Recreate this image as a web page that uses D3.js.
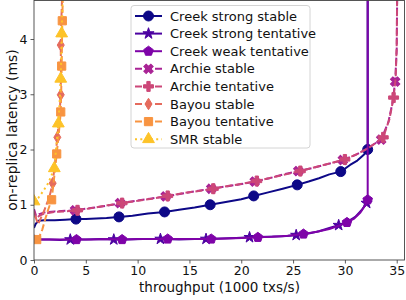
<!DOCTYPE html>
<html lang="en">
<head>
<meta charset="utf-8">
<title>latency vs throughput</title>
<script src="https://d3js.org/d3.v7.min.js"></script>
<style>
	body {margin:0; background:#fff;}
	svg {font-family:"DejaVu Sans", sans-serif;}
</style>
</head>
<body>
<div id="chart"></div>
<script>
// series data (throughput in 1000 txs/s, latency in ms)
const cssX = [0, 0.15, 0.4, 1, 2, 3, 4.05, 5, 6, 7, 8.2, 9.5, 11, 12.6, 14, 15.5, 17.0, 18.5, 20, 21.2, 22.5, 24, 25.4, 26.5, 27.5, 28.5, 29.6, 30.5, 31.2, 31.8, 32.2, 32.2];
const cssY = [0.58, 0.65, 0.71, 0.72, 0.72, 0.73, 0.74, 0.74, 0.75, 0.76, 0.78, 0.80, 0.84, 0.87, 0.91, 0.95, 1.00, 1.05, 1.10, 1.16, 1.22, 1.29, 1.36, 1.42, 1.48, 1.55, 1.60, 1.72, 1.80, 1.90, 2.0, 6];
const cssMarks = [6, 10, 13, 16, 19, 22, 26, 30];

const cstX = [0, 0.2, 0.6, 1.5, 2.5, 3.5, 5, 6.5, 7.7, 9, 10.5, 12.2, 14, 15.5, 16.6, 18, 19.5, 20.8, 22.5, 24, 25.3, 26.5, 27.5, 28.5, 29.4, 30.3, 31.0, 31.6, 32.1, 32.2];
const cstY = [0.45, 0.40, 0.37, 0.37, 0.36, 0.37, 0.37, 0.38, 0.37, 0.37, 0.38, 0.38, 0.37, 0.38, 0.38, 0.39, 0.40, 0.41, 0.42, 0.43, 0.45, 0.48, 0.52, 0.58, 0.63, 0.70, 0.78, 0.90, 1.03, 1.08];
const cstMarks = [5, 8, 11, 14, 17, 20, 24, 28];

const cwtX = [0, 0.2, 0.6, 1.5, 2.8, 4.1, 5.5, 7, 8.5, 10, 11.5, 12.9, 14.3, 15.7, 17.1, 18.6, 20.1, 21.6, 23, 24.5, 26.0, 27.3, 28.5, 29.4, 30.2, 30.9, 31.5, 32.0, 32.2, 32.2];
const cwtY = [0.40, 0.38, 0.37, 0.37, 0.37, 0.37, 0.37, 0.38, 0.37, 0.38, 0.38, 0.38, 0.38, 0.38, 0.38, 0.39, 0.40, 0.41, 0.42, 0.44, 0.47, 0.51, 0.56, 0.62, 0.68, 0.75, 0.86, 1.0, 1.09, 6];
const cwtMarks = [5, 8, 11, 14, 17, 20, 24, 28];

const asX = [0, 0.2, 0.5, 1, 2, 3, 3.96, 5.5, 7, 8.3, 9.8, 11.2, 12.7, 14.2, 15.7, 17.1, 18.5, 19.9, 21.3, 22.7, 24.1, 25.5, 27, 28.4, 29.8, 31, 32, 33.5, 34.2, 34.6, 34.85, 35.0, 35.1];
const asY = [0.92, 0.80, 0.83, 0.86, 0.88, 0.89, 0.90, 0.94, 0.98, 1.03, 1.07, 1.11, 1.15, 1.20, 1.25, 1.29, 1.33, 1.37, 1.42, 1.48, 1.55, 1.61, 1.67, 1.74, 1.81, 1.90, 2.0, 2.18, 2.5, 2.85, 3.23, 3.8, 6];
const asMarks = [6, 9, 12, 15, 18, 21, 24, 27, 30];

const atX = [0, 0.2, 0.5, 1, 2, 3, 4.2, 5.6, 7.1, 8.5, 10, 11.4, 12.9, 14.4, 15.9, 17.3, 18.7, 20.1, 21.5, 22.9, 24.3, 25.7, 27.1, 28.6, 30.0, 31.2, 32.3, 33.7, 34.3, 34.7, 34.9, 35.0, 35.1];
const atY = [0.88, 0.75, 0.80, 0.84, 0.87, 0.88, 0.90, 0.94, 0.99, 1.03, 1.07, 1.11, 1.16, 1.21, 1.25, 1.29, 1.34, 1.38, 1.43, 1.49, 1.55, 1.61, 1.68, 1.75, 1.82, 1.92, 2.03, 2.22, 2.55, 2.94, 3.3, 3.9, 6];
const atMarks = [6, 9, 12, 15, 18, 21, 24, 27, 29];

const bsX = [0.1, 0.4, 1.0, 1.5, 1.8, 2.05, 2.25, 2.45, 2.58, 2.6, 2.58, 2.65, 2.75, 2.8];
const bsY = [0.8, 0.65, 0.9, 1.15, 1.39, 1.8, 2.22, 2.6, 2.99, 3.45, 3.89, 4.4, 5, 6];
const bsMarks = [4, 6, 8, 10];

const btX = [0.26, 0.5, 0.8, 1.1, 1.35, 1.7, 1.95, 2.19, 2.4, 2.58, 2.63, 2.67, 2.7, 2.73, 2.8, 2.9];
const btY = [0.37, 0.42, 0.55, 0.75, 0.9, 1.09, 1.5, 1.92, 2.3, 2.68, 3.1, 3.51, 3.9, 4.33, 5, 6];
const btMarks = [0, 5, 7, 9, 11, 13];

const smrX = [0, 0.4, 0.9, 1.4, 1.96, 2.15, 2.35, 2.48, 2.58, 2.63, 2.67, 2.75, 2.85];
const smrY = [1.06, 1.12, 1.25, 1.4, 1.66, 2.05, 2.47, 2.88, 3.28, 3.7, 4.1, 4.6, 6];
const smrMarks = [0, 4, 6, 8, 10];

const names = ["Creek strong stable", "Creek strong tentative", "Creek weak tentative",
	"Archie stable", "Archie tentative", "Bayou stable", "Bayou tentative", "SMR stable"];
const colors = ["#0d0887", "#4c02a1", "#7e03a8", "#a92395", "#cc4778", "#e56b5d", "#f89441", "#fdc328"];
const xTicks = [0, 5, 10, 15, 20, 25, 30, 35];
const yTicks = [0, 1, 2, 3, 4];

const series = [
	{x: cssX, y: cssY, m: cssMarks, shape: "circle", dash: null},
	{x: cstX, y: cstY, m: cstMarks, shape: "star", dash: null},
	{x: cwtX, y: cwtY, m: cwtMarks, shape: "pentagon", dash: null},
	{x: asX, y: asY, m: asMarks, shape: "x", dash: "7,3"},
	{x: atX, y: atY, m: atMarks, shape: "plus", dash: "7,3"},
	{x: bsX, y: bsY, m: bsMarks, shape: "thin_diamond", dash: "7,3"},
	{x: btX, y: btY, m: btMarks, shape: "square", dash: "7,3"},
	{x: smrX, y: smrY, m: smrMarks, shape: "triangle", dash: "2,3.3"}
];

const W = 406, H = 300;
const plot = {left: 34, right: 405, top: 0, bottom: 260};

const x = d3.scaleLinear().domain([0, 35.8]).range([plot.left, plot.right]);
const y = d3.scaleLinear().domain([0, 4.706]).range([plot.bottom, plot.top]);

const svg = d3.select("#chart").append("svg")
	.attr("width", W).attr("height", H);

svg.append("defs").append("clipPath").attr("id", "clip")
	.append("rect")
	.attr("x", plot.left).attr("y", plot.top)
	.attr("width", plot.right - plot.left).attr("height", plot.bottom - plot.top);

// marker path generator (centered at 0,0)
function markerPath(shape, r) {
	if (shape == "circle") return d3.symbol(d3.symbolCircle, Math.PI * r * r)();
	if (shape == "star") return d3.symbol(d3.symbolStar, r * r * 2.2)();
	if (shape == "square") return d3.symbol(d3.symbolSquare, r * r * 3.2)();
	if (shape == "triangle") return d3.symbol(d3.symbolTriangle, r * r * 2.6)();
	if (shape == "plus") return d3.symbol(d3.symbolCross, r * r * 2.6)();
	if (shape == "x") return d3.symbol(d3.symbolCross, r * r * 2.6)();
	if (shape == "pentagon") {
		let pts = d3.range(5).map(function (k) {
			let a = -Math.PI / 2 + k * 2 * Math.PI / 5;
			return [r * 1.05 * Math.cos(a), r * 1.05 * Math.sin(a)];
		});
		return "M" + pts.join("L") + "Z";
	}
	if (shape == "thin_diamond") {
		let h = r * 1.15, w = r * 0.7;
		return "M0," + (-h) + "L" + w + ",0L0," + h + "L" + (-w) + ",0Z";
	}
}

function drawMarker(g, shape, color, cx, cy, r) {
	g.append("path")
		.attr("d", markerPath(shape, r))
		.attr("transform", "translate(" + cx + "," + cy + ")" + (shape == "x" ? " rotate(45)" : ""))
		.attr("fill", color)
		.attr("stroke", color)
		.attr("stroke-width", 1);
}

const sizes = {circle: 5, star: 4.2, pentagon: 4.8, x: 4.6, plus: 4.6, thin_diamond: 5, square: 4.6, triangle: 4.8};

const plotG = svg.append("g").attr("clip-path", "url(#clip)");

series.forEach(function (s, i) {
	let pts = s.x.map(function (v, j) { return [x(v), y(s.y[j])]; });
	plotG.append("path")
		.attr("d", d3.line()(pts))
		.attr("fill", "none")
		.attr("stroke", colors[i])
		.attr("stroke-width", 2)
		.attr("stroke-linejoin", "round")
		.attr("stroke-dasharray", s.dash);
	s.m.forEach(function (j) {
		drawMarker(plotG, s.shape, colors[i], x(s.x[j]), y(s.y[j]), sizes[s.shape]);
	});
});

// axes
const xAxis = svg.append("g")
	.attr("transform", "translate(0," + plot.bottom + ")")
	.call(d3.axisBottom(x).tickValues(xTicks).tickSize(3.5).tickPadding(3).tickFormat(d3.format("d")));
const yAxis = svg.append("g")
	.attr("transform", "translate(" + plot.left + ",0)")
	.call(d3.axisLeft(y).tickValues(yTicks).tickSize(3.5).tickPadding(3).tickFormat(d3.format("d")));
[xAxis, yAxis].forEach(function (a) {
	a.select(".domain").remove();
	a.selectAll("line").attr("stroke", "#333").attr("stroke-width", 0.8);
	a.selectAll("text").attr("font-size", 12.5).attr("fill", "#111")
		.style("font-family", "DejaVu Sans");
});

// frame
svg.append("rect")
	.attr("x", plot.left).attr("y", plot.top + 0.5)
	.attr("width", plot.right - plot.left - 0.5).attr("height", plot.bottom - plot.top - 0.5)
	.attr("fill", "none").attr("stroke", "#444").attr("stroke-width", 0.9);

svg.append("text")
	.attr("x", (plot.left + plot.right) / 2).attr("y", 292)
	.attr("text-anchor", "middle").attr("font-size", 13.5).attr("fill", "#111")
	.text("throughput (1000 txs/s)");
svg.append("text")
	.attr("transform", "translate(17," + ((plot.top + plot.bottom) / 2) + ") rotate(-90)")
	.attr("text-anchor", "middle").attr("font-size", 14).attr("fill", "#111")
	.text("on-replica latency (ms)");

// legend
const leg = svg.append("g");
leg.append("rect")
	.attr("x", 131).attr("y", 5.5).attr("width", 179).attr("height", 142.5)
	.attr("rx", 3).attr("fill", "#fff").attr("fill-opacity", 0.85)
	.attr("stroke", "#d4d4d4").attr("stroke-width", 1);
names.forEach(function (n, i) {
	let ly = 16 + i * 17.6;
	leg.append("line")
		.attr("x1", 135).attr("x2", 162).attr("y1", ly).attr("y2", ly)
		.attr("stroke", colors[i]).attr("stroke-width", 2)
		.attr("stroke-dasharray", series[i].dash);
	drawMarker(leg, series[i].shape, colors[i], 148.5, ly, sizes[series[i].shape]);
	leg.append("text")
		.attr("x", 170).attr("y", ly + 4.5)
		.attr("font-size", 13).attr("fill", "#111")
		.text(n);
});
</script>
</body>
</html>
